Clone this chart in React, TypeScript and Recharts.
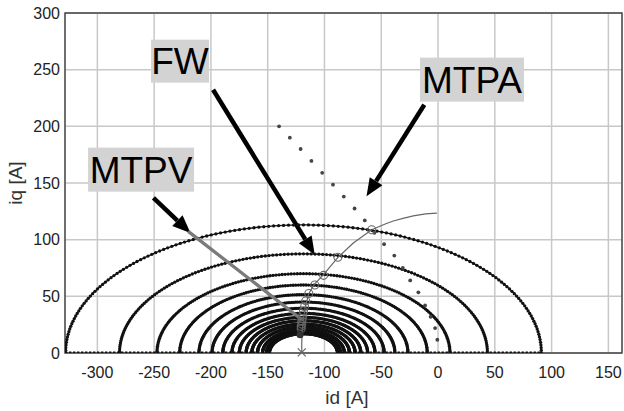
import React from 'react';
import {
  ComposedChart,
  Scatter,
  XAxis,
  YAxis,
  CartesianGrid,
  ReferenceArea,
  ReferenceLine,
  ReferenceDot,
} from 'recharts';

const FONT = '"Liberation Sans", Arial, Helvetica, sans-serif';

const X_TICKS = [-300, -250, -200, -150, -100, -50, 0, 50, 100, 150];
const Y_TICKS = [0, 50, 100, 150, 200, 250, 300];
const X_DOMAIN = [-328.5, 162];
const Y_DOMAIN = [0, 300];

// voltage limit ellipses: common centre on the id axis,
// half width along id and peak height along iq for each speed
const ELLIPSE_CENTER = -118.5;
const ellipseHalfWidth = [209.5, 162, 129, 109, 92, 80.5, 71, 63, 56.5, 50.5, 45.5, 40.5, 36, 32.5, 30];
const ellipseHeight = [113, 87.5, 70, 60, 51.5, 45, 39.5, 35, 31.5, 28.5, 25.5, 23, 20.5, 18.5, 17];
const ELLIPSE_SAMPLES = 150;

// dotted trace along iq = 0 outside the innermost ellipse
const axisTraceLeft = [-328.5, -148.5];
const axisTraceRight = [-88.5, 91];

// sparse dotted line
const sparseId = [-140, -130.5, -121, -111.5, -102, -92.5, -83, -73.5, -64.5, -56, -47.5, -38.5, -31, -24.5, -17.3, -11.4, -6.5, -2.6, -0.6];
const sparseIq = [200, 190, 180, 169.5, 159, 148.5, 138, 127.5, 117, 106, 96, 86, 75, 64, 53.5, 42, 32, 22, 11.7];

// MTPA trajectory
const mtpaId = [-120, -120, -119.5, -118.5, -117, -114, -109, -101, -88, -74.6, -58.4, -46, -39.4, -30, -21.8, -11, -1];
const mtpaIq = [0, 10, 20, 30, 40, 52, 60.5, 69, 84.5, 97, 108.8, 114, 116.5, 119, 121, 122.8, 123.5];

// operating points marked on MTPA
const opId = [-58.4, -88.2, -100.8, -108.5, -113.8, -116.5, -117.5, -118.5, -119, -119.5, -120, -120, -120.5, -120.5];
const opIq = [108.8, 84.5, 68.5, 60, 52.5, 46, 41, 37, 33.5, 30.5, 28, 25.5, 23.5, 21.5];

// MTPV line
const mtpvId = [-220, -119.8];
const mtpvIq = [107.3, 29.4];

// arrows: [startId, startIq, tipId, tipIq]
const arrows = [
  [-198.1, 232.3, -108.6, 86.7],
  [-12.1, 219.1, -63, 138.2],
  [-250.6, 136.8, -218, 105.9],
];

// annotation boxes
const notes = [
  { text: 'FW', id: -227.2, iq: 257.5, w: 58, h: 43 },
  { text: 'MTPA', id: 29.9, iq: 241.2, w: 104, h: 44 },
  { text: 'MTPV', id: -261.5, iq: 161.8, w: 106, h: 44 },
];

const zip = (xs: number[], ys: number[]) => xs.map((x, i) => ({ x, y: ys[i] }));

const ellipses = ellipseHalfWidth.map((a, i) => {
  const b = ellipseHeight[i];
  const pts = [];
  for (let k = 0; k <= ELLIPSE_SAMPLES; k++) {
    const t = (Math.PI * k) / ELLIPSE_SAMPLES;
    pts.push({ x: ELLIPSE_CENTER - a * Math.cos(t), y: b * Math.sin(t) });
  }
  return pts;
});

const noMarker = () => <g />;
const beadDot = (p: any) => <circle cx={p.cx} cy={p.cy} r={1.65} fill="#111" />;
const sparseDot = (p: any) => <circle cx={p.cx} cy={p.cy} r={1.9} fill="#444" />;
const ringDot = (p: any) => <circle cx={p.cx} cy={p.cy} r={4} fill="none" stroke="#666" strokeWidth={1.1} />;

const arrowShape = (p: any) => {
  const { x1, y1, x2, y2 } = p;
  const ang = Math.atan2(y2 - y1, x2 - x1);
  const len = 18;
  const half = 7.5;
  const bx = x2 - len * Math.cos(ang);
  const by = y2 - len * Math.sin(ang);
  const px = -Math.sin(ang) * half;
  const py = Math.cos(ang) * half;
  return (
    <g>
      <line x1={x1} y1={y1} x2={bx} y2={by} stroke="#000" strokeWidth={4.5} />
      <polygon points={`${x2},${y2} ${bx + px},${by + py} ${bx - px},${by - py}`} fill="#000" />
    </g>
  );
};

const noteShape = (note: { text: string; w: number; h: number }) => (p: any) => (
  <g>
    <rect x={p.cx - note.w / 2} y={p.cy - note.h / 2} width={note.w} height={note.h} fill="#d3d3d3" />
    <text
      x={p.cx}
      y={p.cy + 13}
      textAnchor="middle"
      fontSize={37}
      fontFamily={FONT}
      fill="#000"
    >
      {note.text}
    </text>
  </g>
);

const crossShape = (p: any) => (
  <g stroke="#666" strokeWidth={1.2}>
    <line x1={p.cx - 4} y1={p.cy - 4} x2={p.cx + 4} y2={p.cy + 4} />
    <line x1={p.cx - 4} y1={p.cy + 4} x2={p.cx + 4} y2={p.cy - 4} />
  </g>
);

const filledShape = (p: any) => <circle cx={p.cx} cy={p.cy} r={3.5} fill="#333" />;

export default function App() {
  return (
    <div style={{ position: 'absolute', left: 0, top: 0, width: 624, height: 411, background: '#fff' }}>
      <ComposedChart width={624} height={411} margin={{ top: 13, right: 2, bottom: 0, left: 0 }}>
        <CartesianGrid stroke="#c8c8c8" strokeWidth={1.5} />
        <XAxis
          type="number"
          dataKey="x"
          domain={X_DOMAIN}
          ticks={X_TICKS}
          interval={0}
          allowDataOverflow
          axisLine={false}
          tickLine={false}
          tickMargin={8}
          height={58}
          tick={{ fontSize: 16, fill: '#222', fontFamily: FONT }}
        />
        <YAxis
          type="number"
          dataKey="y"
          domain={Y_DOMAIN}
          ticks={Y_TICKS}
          interval={0}
          allowDataOverflow
          axisLine={false}
          tickLine={false}
          tickSize={5}
          tickMargin={0}
          width={65}
          tick={{ fontSize: 16, fill: '#222', fontFamily: FONT }}
        />
        <ReferenceArea
          x1={X_DOMAIN[0]}
          x2={X_DOMAIN[1]}
          y1={Y_DOMAIN[0]}
          y2={Y_DOMAIN[1]}
          fill="none"
          stroke="#444"
          strokeWidth={1.4}
          fillOpacity={0}
        />
        {ellipses.map((pts, i) => (
          <Scatter
            key={'e' + i}
            data={pts}
            line={{ stroke: '#111', strokeWidth: 1.3 }}
            shape={beadDot}
            isAnimationActive={false}
          />
        ))}
        {[axisTraceLeft, axisTraceRight].map((seg, i) => (
          <Scatter
            key={'a' + i}
            data={zip(seg, [0, 0])}
            line={{ stroke: '#111', strokeWidth: 3.2, strokeDasharray: '2.4 1.6' }}
            shape={noMarker}
            isAnimationActive={false}
          />
        ))}
        <Scatter data={zip(sparseId, sparseIq)} shape={sparseDot} isAnimationActive={false} />
        <Scatter
          data={zip(mtpvId, mtpvIq)}
          line={{ stroke: '#7a7a7a', strokeWidth: 3.3 }}
          shape={noMarker}
          isAnimationActive={false}
        />
        <Scatter
          data={zip(mtpaId, mtpaIq)}
          line={{ stroke: '#666', strokeWidth: 1.2 }}
          shape={noMarker}
          isAnimationActive={false}
        />
        <Scatter data={zip(opId, opIq)} shape={ringDot} isAnimationActive={false} />
        <ReferenceDot x={-121.5} y={16} shape={filledShape} />
        <ReferenceDot x={-120} y={0.5} shape={crossShape} ifOverflow="visible" />
        {arrows.map((a, i) => (
          <ReferenceLine
            key={'ar' + i}
            segment={[
              { x: a[0], y: a[1] },
              { x: a[2], y: a[3] },
            ]}
            shape={arrowShape}
          />
        ))}
        {notes.map((n) => (
          <ReferenceDot key={n.text} x={n.id} y={n.iq} shape={noteShape(n)} />
        ))}
      </ComposedChart>
      <svg
        width={624}
        height={411}
        style={{ position: 'absolute', left: 0, top: 0, pointerEvents: 'none' }}
      >
        <text x={347} y={404} textAnchor="middle" fontSize={19} fontFamily={FONT} fill="#333">
          id [A]
        </text>
        <text
          x={22}
          y={183}
          transform="rotate(-90 22 183)"
          textAnchor="middle"
          fontSize={19}
          fontFamily={FONT}
          fill="#333"
        >
          iq [A]
        </text>
      </svg>
    </div>
  );
}
